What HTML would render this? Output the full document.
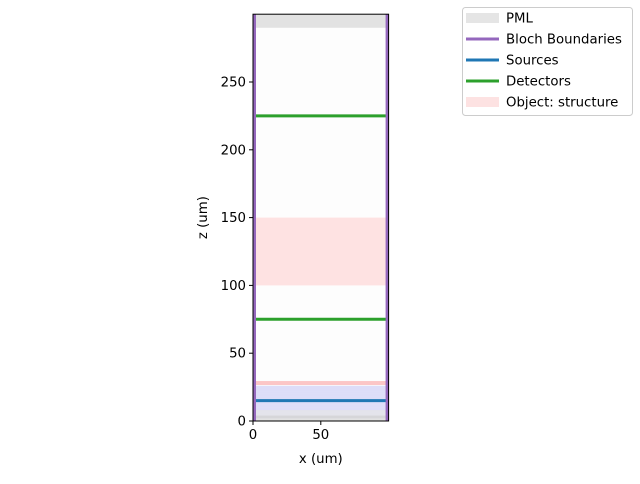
<!DOCTYPE html>
<html><head><meta charset="utf-8"><style>
body{margin:0;background:#fff;font-family:"DejaVu Sans",sans-serif}
</style></head><body>
<svg width="640" height="480" xmlns="http://www.w3.org/2000/svg" font-family="DejaVu Sans, Liberation Sans, sans-serif" font-size="13.3">
<g id="plot"></g>
<g id="legend"></g>
</svg>
<script>
const xTicks=[0,50];
const zTicks=[0,50,100,150,200,250];
const detectorZ=[75,225];
const sourceZ=[15];
const objectZ=[100,150];
const pmlTop=[290,300];
const bottomLayers=[2,4,6,8,10,12,14,16,18,20,22,24];
const pinkLineZ=[28];
const legendLabels=["PML","Bloch Boundaries","Sources","Detectors","Object: structure"];
const legendColors=["#e5e5e5","#9467bd","#1f77b4","#2ca02c","#fde2e2"];
const L=253,R=388.6,T=14.2,B=421;
const X=v=>L+(v-0)/100*(R-L);
const Z=v=>B-(v-0)/300*(B-T);
const NS="http://www.w3.org/2000/svg";
const g=document.getElementById('plot');
function mk(t,a,p){const e=document.createElementNS(NS,t);for(const k in a)e.setAttribute(k,a[k]);(p||g).appendChild(e);return e;}
let e;
e=mk('rect',{x:L,y:T,width:R-L,height:B-T,fill:'#fdfdfd'});

e=mk('rect',{x:L,y:Z(objectZ[1]),width:R-L,height:Z(objectZ[0])-Z(objectZ[1]),fill:'#fee2e2'});

e=mk('rect',{x:L,y:Z(pmlTop[1]),width:R-L,height:Z(pmlTop[0])-Z(pmlTop[1]),fill:'#e2e2e2'});

bottomLayers.forEach((z,i)=>{
 const c=z<8?'rgba(180,180,200,0.35)':'rgba(110,110,230,0.22)';
 e=mk('rect',{x:L,y:Z(z+2),width:R-L,height:Z(0)-Z(2),fill:c});
 
});
e=mk('rect',{x:L,y:Z(4),width:R-L,height:Z(0)-Z(4),fill:'rgba(200,200,200,0.5)'});

pinkLineZ.forEach(z=>{e=mk('rect',{x:L,y:Z(z)-2,width:R-L,height:4,fill:'#fcc6c6'});
});
sourceZ.forEach(z=>{e=mk('line',{x1:L,x2:R,y1:Z(z),y2:Z(z),stroke:'#1f77b4','stroke-width':3});
});
detectorZ.forEach(z=>{e=mk('line',{x1:L,x2:R,y1:Z(z),y2:Z(z),stroke:'#2ca02c','stroke-width':3});
});
[L+1.5,R-1.5].forEach(x=>{e=mk('line',{x1:x,x2:x,y1:T,y2:B,stroke:'#9467bd','stroke-width':3});
});
e=mk('rect',{x:L,y:T,width:R-L,height:B-T,fill:'none',stroke:'#000','stroke-width':1});

xTicks.forEach(v=>{mk('line',{x1:X(v),x2:X(v),y1:B,y2:B+4,stroke:'#000'});
e=mk('text',{x:X(v),y:B+18,'text-anchor':'middle'});e.textContent=v;
});
zTicks.forEach(v=>{mk('line',{x1:L-4,x2:L,y1:Z(v),y2:Z(v),stroke:'#000'});
e=mk('text',{x:L-7,y:Z(v)+4.5,'text-anchor':'end'});e.textContent=v;
});
e=mk('text',{x:(L+R)/2,y:463,'text-anchor':'middle'});e.textContent='x (um)';

e=mk('text',{x:0,y:0,'text-anchor':'middle',transform:`translate(207,${(T+B)/2}) rotate(-90)`});e.textContent='z (um)';

const lg=document.getElementById('legend');
e=mk('rect',{x:462.5,y:7.5,width:170,height:108,rx:3,fill:'#fff',stroke:'#ccc'},lg);

legendLabels.forEach((s,i)=>{
 const y=18+i*21;
 if(i===0||i===4){e=mk('rect',{x:466,y:y-5,width:33,height:10,fill:legendColors[i]},lg);}
 else{e=mk('line',{x1:466,x2:499,y1:y,y2:y,stroke:legendColors[i],'stroke-width':3},lg);}
 
 e=mk('text',{x:506,y:y+4.5},lg);e.textContent=s;
 
});
</script>
</body></html>
